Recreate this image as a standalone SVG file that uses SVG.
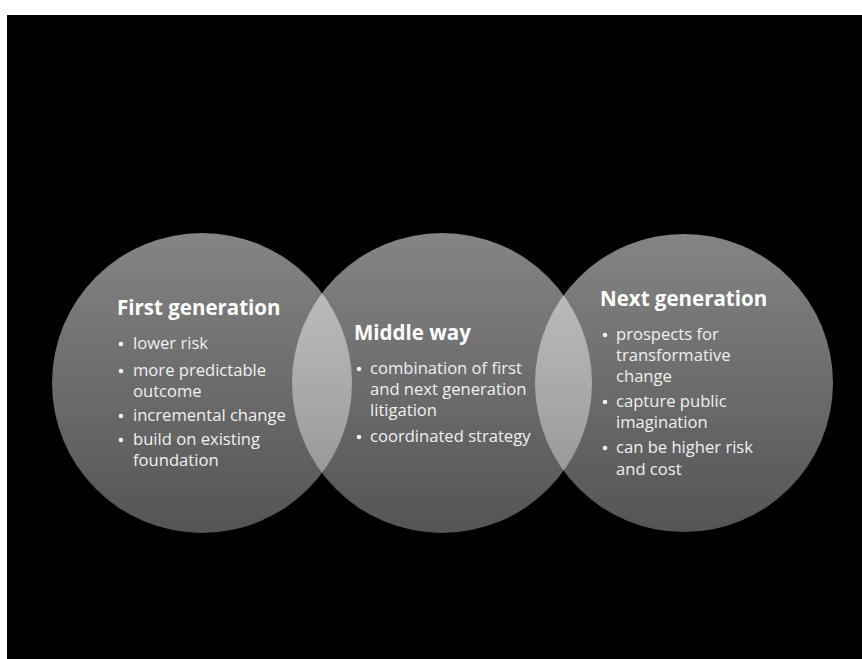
<svg xmlns="http://www.w3.org/2000/svg" width="862" height="659" viewBox="0 0 862 659">
<defs>
<linearGradient id="g" x1="0" y1="0" x2="0" y2="1">
<stop offset="0" stop-color="#ffffff" stop-opacity="0.52"/>
<stop offset="1" stop-color="#ffffff" stop-opacity="0.33"/>
</linearGradient>
</defs>
<style>
.c{fill:url(#g)}
.t{font-family:"Open Sans",Lato,sans-serif;font-weight:bold;font-size:20.5px;fill:#ffffff}
.b{font-family:"Open Sans",Lato,sans-serif;font-size:16.6px;fill:#f0f0f0}
</style>
<rect x="0" y="0" width="862" height="659" fill="#ffffff"/>
<rect x="7" y="15" width="855" height="644" fill="#000000"/>
<g id="first">
<circle class="c" cx="202" cy="383" r="150"/>
<text class="t" x="117" y="315">First generation</text>
<g class="b">
<circle cx="121" cy="344" r="2.3" fill="#f0f0f0"/>
<text x="133" y="349">lower risk</text>
<circle cx="121" cy="371" r="2.3" fill="#f0f0f0"/>
<text x="133" y="376">more predictable</text>
<text x="133" y="397">outcome</text>
<circle cx="121" cy="416" r="2.3" fill="#f0f0f0"/>
<text x="133" y="421">incremental change</text>
<circle cx="121" cy="440" r="2.3" fill="#f0f0f0"/>
<text x="133" y="445">build on existing</text>
<text x="133" y="466">foundation</text>
</g>
</g>
<g id="middle">
<circle class="c" cx="442" cy="383" r="150"/>
<text class="t" x="354" y="340">Middle way</text>
<g class="b">
<circle cx="359" cy="369" r="2.3" fill="#f0f0f0"/>
<text x="370" y="374">combination of first</text>
<text x="370" y="395">and next generation</text>
<text x="370" y="416">litigation</text>
<circle cx="359" cy="437" r="2.3" fill="#f0f0f0"/>
<text x="370" y="442">coordinated strategy</text>
</g>
</g>
<g id="next">
<circle class="c" cx="684" cy="383" r="149"/>
<text class="t" x="600" y="306">Next generation</text>
<g class="b">
<circle cx="605" cy="335" r="2.3" fill="#f0f0f0"/>
<text x="616" y="340">prospects for</text>
<text x="616" y="361">transformative</text>
<text x="616" y="382">change</text>
<circle cx="605" cy="402" r="2.3" fill="#f0f0f0"/>
<text x="616" y="407">capture public</text>
<text x="616" y="428">imagination</text>
<circle cx="605" cy="448" r="2.3" fill="#f0f0f0"/>
<text x="616" y="453">can be higher risk</text>
<text x="616" y="475">and cost</text>
</g>
</g>
<g id="connectors"/>
</svg>
